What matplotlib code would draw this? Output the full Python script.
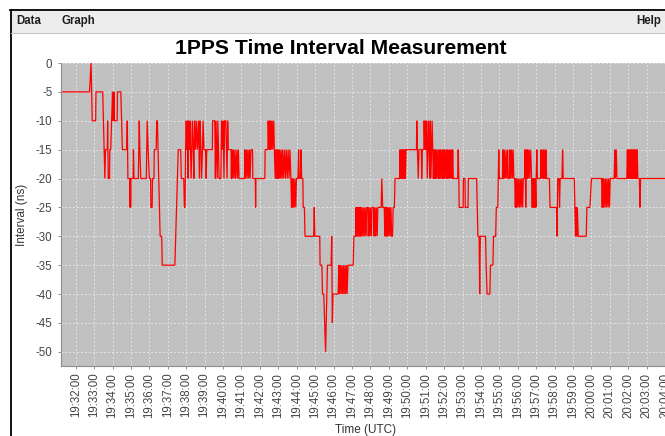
import matplotlib
matplotlib.use("Agg")
import matplotlib.pyplot as plt
from matplotlib.patches import Rectangle
from matplotlib.lines import Line2D

plt.rcParams['font.family'] = ['Liberation Sans', 'DejaVu Sans']
plt.rcParams['axes.unicode_minus'] = False

# ---------------- data ----------------
times = [
    "19:31:10", "19:32:45", "19:32:50", "19:32:54", "19:33:05", "19:33:06", "19:33:28", "19:33:35",
    "19:33:37", "19:33:43", "19:33:44", "19:33:46", "19:33:50", "19:33:51", "19:33:54", "19:33:57",
    "19:34:00", "19:34:01", "19:34:02", "19:34:04", "19:34:05", "19:34:06", "19:34:15", "19:34:16",
    "19:34:27", "19:34:32", "19:34:46", "19:34:48", "19:34:50", "19:34:56", "19:34:57", "19:34:58",
    "19:34:59", "19:35:00", "19:35:07", "19:35:08", "19:35:10", "19:35:24", "19:35:27", "19:35:29",
    "19:35:32", "19:35:50", "19:35:53", "19:35:56", "19:36:00", "19:36:04", "19:36:05", "19:36:09",
    "19:36:10", "19:36:15", "19:36:16", "19:36:22", "19:36:24", "19:36:26", "19:36:35", "19:36:40",
    "19:36:42", "19:37:23", "19:37:34", "19:37:42", "19:37:44", "19:37:52", "19:37:54", "19:37:56",
    "19:37:58", "19:38:00", "19:38:02", "19:38:04", "19:38:06", "19:38:08", "19:38:10", "19:38:12",
    "19:38:14", "19:38:16", "19:38:18", "19:38:20", "19:38:23", "19:38:25", "19:38:27", "19:38:30",
    "19:38:33", "19:38:36", "19:38:40", "19:38:43", "19:38:45", "19:38:48", "19:38:50", "19:38:53",
    "19:38:55", "19:38:58", "19:39:03", "19:39:05", "19:39:07", "19:39:25", "19:39:26", "19:39:33",
    "19:39:35", "19:39:37", "19:39:39", "19:39:41", "19:39:43", "19:39:45", "19:39:47", "19:39:53",
    "19:39:55", "19:39:58", "19:40:00", "19:40:03", "19:40:05", "19:40:09", "19:40:11", "19:40:13",
    "19:40:15", "19:40:17", "19:40:26", "19:40:27", "19:40:29", "19:40:31", "19:40:34", "19:40:36",
    "19:40:39", "19:40:41", "19:40:45", "19:40:47", "19:40:50", "19:40:52", "19:41:10", "19:41:11",
    "19:41:13", "19:41:16", "19:41:18", "19:41:21", "19:41:23", "19:41:26", "19:41:28", "19:41:31",
    "19:41:36", "19:41:37", "19:41:45", "19:41:46", "19:41:47", "19:42:16", "19:42:17", "19:42:26",
    "19:42:27", "19:42:29", "19:42:31", "19:42:33", "19:42:35", "19:42:37", "19:42:40", "19:42:42",
    "19:42:45", "19:42:47", "19:42:50", "19:42:52", "19:42:54", "19:42:56", "19:42:58", "19:43:00",
    "19:43:02", "19:43:04", "19:43:07", "19:43:09", "19:43:12", "19:43:14", "19:43:17", "19:43:20",
    "19:43:23", "19:43:26", "19:43:29", "19:43:32", "19:43:35", "19:43:38", "19:43:41", "19:43:43",
    "19:43:45", "19:43:47", "19:43:49", "19:43:52", "19:43:54", "19:43:57", "19:43:59", "19:44:04",
    "19:44:06", "19:44:08", "19:44:12", "19:44:14", "19:44:16", "19:44:20", "19:44:21", "19:44:25",
    "19:44:27", "19:44:55", "19:44:57", "19:44:59", "19:45:15", "19:45:16", "19:45:22", "19:45:24",
    "19:45:28", "19:45:31", "19:45:34", "19:45:36", "19:45:38", "19:45:40", "19:45:52", "19:45:54",
    "19:45:56", "19:45:58", "19:46:15", "19:46:17", "19:46:19", "19:46:22", "19:46:24", "19:46:27",
    "19:46:29", "19:46:32", "19:46:34", "19:46:37", "19:46:39", "19:46:42", "19:46:44", "19:46:47",
    "19:47:04", "19:47:06", "19:47:12", "19:47:13", "19:47:15", "19:47:17", "19:47:19", "19:47:21",
    "19:47:23", "19:47:25", "19:47:27", "19:47:29", "19:47:31", "19:47:33", "19:47:36", "19:47:38",
    "19:47:41", "19:47:43", "19:47:46", "19:47:48", "19:47:52", "19:47:53", "19:47:55", "19:47:58",
    "19:48:00", "19:48:03", "19:48:05", "19:48:10", "19:48:12", "19:48:14", "19:48:17", "19:48:19",
    "19:48:22", "19:48:24", "19:48:35", "19:48:37", "19:48:40", "19:48:45", "19:48:47", "19:48:49",
    "19:48:51", "19:48:53", "19:48:55", "19:48:57", "19:49:00", "19:49:02", "19:49:04", "19:49:07",
    "19:49:09", "19:49:12", "19:49:14", "19:49:18", "19:49:20", "19:49:35", "19:49:36", "19:49:38",
    "19:49:40", "19:49:42", "19:49:44", "19:49:46", "19:49:48", "19:49:50", "19:49:52", "19:49:54",
    "19:49:56", "19:50:30", "19:50:31", "19:50:33", "19:50:36", "19:50:38", "19:50:46", "19:50:47",
    "19:50:49", "19:50:54", "19:50:55", "19:50:57", "19:50:59", "19:51:01", "19:51:03", "19:51:05",
    "19:51:07", "19:51:09", "19:51:11", "19:51:13", "19:51:15", "19:51:17", "19:51:19", "19:51:21",
    "19:51:23", "19:51:25", "19:51:27", "19:51:29", "19:51:31", "19:51:33", "19:51:35", "19:51:37",
    "19:51:40", "19:51:42", "19:51:44", "19:51:46", "19:51:48", "19:51:50", "19:51:53", "19:51:55",
    "19:51:57", "19:51:59", "19:52:01", "19:52:03", "19:52:06", "19:52:08", "19:52:10", "19:52:12",
    "19:52:14", "19:52:17", "19:52:19", "19:52:21", "19:52:24", "19:52:26", "19:52:28", "19:52:30",
    "19:52:44", "19:52:46", "19:52:48", "19:52:49", "19:53:02", "19:53:03", "19:53:08", "19:53:09",
    "19:53:18", "19:53:19", "19:53:46", "19:53:48", "19:53:50", "19:53:54", "19:53:56", "19:53:58",
    "19:54:15", "19:54:17", "19:54:20", "19:54:29", "19:54:31", "19:54:39", "19:54:41", "19:54:48",
    "19:54:50", "19:54:55", "19:54:58", "19:55:00", "19:55:10", "19:55:12", "19:55:14", "19:55:16",
    "19:55:19", "19:55:22", "19:55:24", "19:55:27", "19:55:29", "19:55:33", "19:55:35", "19:55:37",
    "19:55:40", "19:55:42", "19:55:45", "19:55:47", "19:55:50", "19:55:52", "19:55:54", "19:55:56",
    "19:55:58", "19:56:01", "19:56:03", "19:56:06", "19:56:08", "19:56:11", "19:56:13", "19:56:16",
    "19:56:18", "19:56:22", "19:56:24", "19:56:26", "19:56:28", "19:56:30", "19:56:32", "19:56:34",
    "19:56:37", "19:56:39", "19:56:42", "19:56:45", "19:56:47", "19:56:49", "19:56:51", "19:56:53",
    "19:56:55", "19:56:57", "19:56:59", "19:57:00", "19:57:02", "19:57:04", "19:57:14", "19:57:16",
    "19:57:18", "19:57:21", "19:57:23", "19:57:25", "19:57:27", "19:57:30", "19:57:32", "19:57:34",
    "19:57:43", "19:57:45", "19:58:06", "19:58:08", "19:58:10", "19:58:14", "19:58:16", "19:58:18",
    "19:58:24", "19:58:26", "19:58:28", "19:59:04", "19:59:06", "19:59:08", "19:59:10", "19:59:12",
    "19:59:14", "19:59:17", "19:59:43", "19:59:45", "19:59:55", "20:00:00", "20:00:33", "20:00:35",
    "20:00:37", "20:00:39", "20:00:41", "20:00:44", "20:00:46", "20:00:49", "20:00:51", "20:00:54",
    "20:00:56", "20:00:59", "20:01:01", "20:01:14", "20:01:16", "20:01:18", "20:01:21", "20:01:23",
    "20:01:55", "20:01:57", "20:01:59", "20:02:01", "20:02:03", "20:02:05", "20:02:07", "20:02:09",
    "20:02:11", "20:02:13", "20:02:15", "20:02:17", "20:02:19", "20:02:21", "20:02:23", "20:02:25",
    "20:02:27", "20:02:29", "20:02:31", "20:02:36", "20:02:38", "20:02:40", "20:04:30",
]
values = [
    -5, -5, 0, -10, -10, -5, -5, -20,
    -15, -15, -10, -20, -20, -15, -15, -10,
    -5, -10, -5, -10, -5, -10, -10, -5,
    -5, -15, -15, -10, -20, -20, -25, -20,
    -25, -20, -20, -15, -20, -20, -10, -15,
    -20, -20, -10, -15, -20, -20, -25, -25,
    -20, -20, -15, -15, -10, -10, -30, -30,
    -35, -35, -15, -15, -20, -20, -25, -25,
    -15, -10, -15, -10, -20, -10, -15, -10,
    -15, -20, -15, -10, -15, -20, -10, -15,
    -10, -15, -10, -20, -10, -15, -20, -15,
    -10, -15, -15, -20, -15, -15, -10, -10,
    -20, -10, -15, -20, -10, -15, -20, -20,
    -10, -15, -10, -20, -10, -10, -15, -20,
    -10, -15, -15, -20, -15, -20, -15, -20,
    -15, -20, -15, -20, -15, -20, -20, -15,
    -20, -15, -20, -15, -20, -15, -20, -15,
    -15, -20, -20, -25, -20, -20, -15, -15,
    -10, -15, -10, -15, -10, -15, -10, -15,
    -10, -15, -20, -15, -20, -15, -20, -15,
    -20, -15, -20, -15, -20, -15, -20, -15,
    -20, -15, -20, -15, -20, -15, -20, -25,
    -20, -25, -20, -25, -20, -25, -20, -20,
    -15, -20, -20, -15, -20, -20, -25, -25,
    -30, -30, -25, -30, -30, -35, -35, -40,
    -40, -45, -50, -45, -40, -35, -35, -30,
    -45, -40, -40, -35, -40, -35, -40, -35,
    -40, -35, -40, -35, -40, -35, -40, -35,
    -35, -30, -30, -25, -30, -25, -30, -25,
    -30, -25, -30, -25, -30, -25, -30, -25,
    -30, -25, -30, -25, -25, -30, -25, -30,
    -25, -30, -25, -25, -30, -25, -30, -25,
    -30, -25, -25, -20, -25, -25, -30, -25,
    -30, -25, -30, -25, -30, -25, -30, -25,
    -30, -30, -25, -25, -20, -20, -15, -20,
    -15, -20, -15, -20, -15, -20, -15, -20,
    -15, -15, -10, -15, -20, -15, -15, -20,
    -15, -15, -10, -15, -10, -15, -10, -20,
    -15, -10, -15, -20, -10, -20, -15, -10,
    -15, -20, -15, -20, -15, -20, -15, -20,
    -15, -20, -15, -20, -15, -20, -15, -20,
    -15, -20, -15, -20, -15, -20, -15, -20,
    -15, -20, -15, -20, -15, -20, -15, -20,
    -20, -15, -20, -25, -25, -20, -20, -25,
    -25, -20, -20, -25, -30, -30, -40, -30,
    -30, -35, -40, -40, -35, -35, -30, -30,
    -25, -25, -15, -20, -20, -15, -20, -15,
    -20, -15, -20, -15, -20, -20, -15, -20,
    -15, -20, -15, -20, -20, -25, -20, -25,
    -20, -25, -20, -25, -20, -25, -20, -25,
    -20, -20, -15, -25, -15, -20, -15, -20,
    -15, -20, -15, -20, -25, -20, -25, -20,
    -25, -20, -25, -20, -15, -20, -20, -15,
    -20, -15, -20, -15, -20, -20, -15, -20,
    -20, -25, -25, -30, -20, -20, -25, -20,
    -20, -15, -20, -20, -25, -30, -25, -30,
    -25, -30, -30, -25, -25, -20, -20, -25,
    -20, -25, -20, -25, -20, -25, -20, -25,
    -20, -25, -20, -20, -15, -20, -15, -20,
    -20, -15, -20, -15, -20, -15, -20, -15,
    -20, -15, -20, -15, -20, -15, -20, -15,
    -20, -15, -20, -20, -25, -20, -20,
]

x_tick_labels = [
    "19:32:00", "19:33:00", "19:34:00", "19:35:00", "19:36:00", "19:37:00", "19:38:00",
    "19:39:00", "19:40:00", "19:41:00", "19:42:00", "19:43:00", "19:44:00", "19:45:00",
    "19:46:00", "19:47:00", "19:48:00", "19:49:00", "19:50:00", "19:51:00", "19:52:00",
    "19:53:00", "19:54:00", "19:55:00", "19:56:00", "19:57:00", "19:58:00", "19:59:00",
    "20:00:00", "20:01:00", "20:02:00", "20:03:00", "20:04:00",
]
y_ticks = [0, -5, -10, -15, -20, -25, -30, -35, -40, -45, -50]
menu_items = ["Data", "Graph", "Help"]
title = "1PPS Time Interval Measurement"
x_label = "Time (UTC)"
y_label = "Interval (ns)"

assert len(times) == len(values), (len(times), len(values))


def to_sec(s):
    h, m, sec = (int(p) for p in s.split(":"))
    return h * 3600 + m * 60 + sec - (19 * 3600 + 32 * 60)


t = [to_sec(s) for s in times]
xt = [to_sec(s) for s in x_tick_labels]

# ---------------- figure / window chrome ----------------
W, H = 665, 436
fig = plt.figure(figsize=(W / 100, H / 100), dpi=100)
fig.patch.set_facecolor("white")


def fx(x):
    return x / W


def fy(y):
    return 1 - y / H


fig.add_artist(Rectangle((fx(11), fy(33)), 1 - fx(11), fy(11) - fy(33),
                         transform=fig.transFigure, facecolor="#ececec", edgecolor="none"))
fig.add_artist(Line2D([fx(10), 1], [fy(10.5), fy(10.5)], color="black", lw=1.3))
fig.add_artist(Line2D([fx(10.5), fx(10.5)], [fy(10), 0], color="black", lw=1.3))
fig.add_artist(Line2D([fx(11), 1], [fy(33.5), fy(33.5)], color="#c4c4c4", lw=0.8))
menu_x = [16, 61, 636]
for lab, mx in zip(menu_items, menu_x):
    fig.text(fx(mx), fy(21), lab, ha="left", va="center", fontsize=8.3,
             fontweight="bold", color="#1e1e1e")

fig.text(fx(341), fy(49), title, ha="center", va="center", fontsize=15.2,
         fontweight="bold", color="black")

# ---------------- plot ----------------
left, right, top, bottom = 60.7, 671.0, 63.0, 365.7
ax = fig.add_axes([fx(left), fy(bottom), (right - left) / W, (bottom - top) / H])
ax.set_facecolor("#c0c0c0")
ax.plot(t, values, color="#ff0000", lw=0.9, solid_joinstyle="miter")

ax.set_xlim((left - 75.7) * 60 / 18.42, (right - 75.7) * 60 / 18.42)
ax.set_ylim(-52.4, 0)

ax.set_xticks(xt)
ax.set_xticklabels(x_tick_labels, rotation=90, va="top", ha="center")
ax.set_yticks(y_ticks)
ax.set_yticklabels([str(v) for v in y_ticks])
ax.tick_params(axis="both", length=2, width=0.6, color="#808080",
               labelsize=8.3, labelcolor="#444444")
ax.tick_params(axis="x", pad=3)
ax.tick_params(axis="y", pad=4)

ax.grid(True, color="#e4e4e4", lw=0.7, linestyle=(0, (2, 2)))
ax.set_axisbelow(True)
for side in ("top", "right"):
    ax.spines[side].set_visible(False)
for side in ("left", "bottom"):
    ax.spines[side].set_color("#8c8c8c")
    ax.spines[side].set_linewidth(0.8)

fig.text(fx(366), fy(430), x_label, ha="center", va="center", fontsize=8.5, color="#333333")
fig.text(fx(22), fy(215), y_label, ha="center", va="center", rotation=90,
         fontsize=8.5, color="#333333")

fig.savefig("out.png", dpi=100)
